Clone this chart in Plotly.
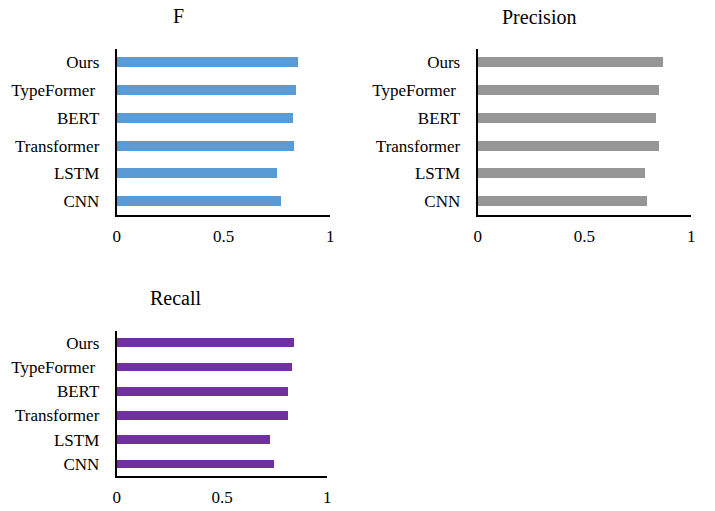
import plotly.graph_objects as go

categories = ["CNN", "LSTM", "Transformer", "BERT", "TypeFormer", "Ours"]
tick_labels = ["CNN", "LSTM", "Transformer", "BERT", "TypeFormer\u00a0", "Ours"]
f_values = [0.768, 0.751, 0.828, 0.823, 0.836, 0.848]
precision_values = [0.790, 0.781, 0.846, 0.833, 0.849, 0.868]
recall_values = [0.745, 0.726, 0.810, 0.814, 0.830, 0.838]
x_ticks = [0, 0.5, 1]
x_tick_labels = ["0", "0.5", "1"]
titles = ["F", "Precision", "Recall"]
colors = ["#5B9BD5", "#969696", "#7030A0"]

W, H = 715, 511
FONT = "Liberation Serif, Times New Roman, serif"

fig = go.Figure()
series = [f_values, precision_values, recall_values]
for i, (vals, col) in enumerate(zip(series, colors)):
    sfx = "" if i == 0 else str(i + 1)
    fig.add_trace(go.Bar(
        x=vals, y=categories, orientation="h", marker=dict(color=col, line=dict(width=0)),
        width=0.36, xaxis="x" + sfx, yaxis="y" + sfx, showlegend=False,
    ))

def px_x(a, b):
    return [a / W, b / W]

def px_y(top, bottom):
    return [1 - bottom / H, 1 - top / H]

domains = [
    (px_x(114, 330), px_y(49, 215)),
    (px_x(479, 695), px_y(49, 215)),
    (px_x(114, 327), px_y(331, 476)),
]

layout = dict(
    width=W, height=H, margin=dict(l=0, r=0, t=0, b=0),
    paper_bgcolor="white", plot_bgcolor="white",
    font=dict(family=FONT, size=17, color="black"),
    bargap=0,
)
for i, (dx, dy) in enumerate(domains):
    sfx = "" if i == 0 else str(i + 1)
    layout["xaxis" + sfx] = dict(
        domain=dx, range=[0, 1], anchor="y" + sfx, tickvals=x_ticks, ticktext=x_tick_labels,
        showgrid=False, zeroline=False, showline=True, linecolor="black", linewidth=2,
        ticks="outside", ticklen=5, tickcolor="rgba(0,0,0,0)",
        tickfont=dict(family=FONT, size=17, color="black"), fixedrange=True,
    )
    layout["yaxis" + sfx] = dict(
        domain=dy, range=[-0.5, 5.48], anchor="x" + sfx, type="category",
        categoryorder="array", categoryarray=categories,
        tickvals=categories, ticktext=tick_labels,
        showgrid=False, zeroline=False, showline=True, linecolor="black", linewidth=2,
        ticks="outside", ticklen=12, tickcolor="rgba(0,0,0,0)",
        tickfont=dict(family=FONT, size=17, color="black"), fixedrange=True,
    )

title_pos = [(176, 16), (541, 17), (174, 298)]
annotations = []
for t, (x, y) in zip(titles, title_pos):
    annotations.append(dict(
        text=t, x=x / W, y=1 - y / H, xref="paper", yref="paper",
        xanchor="center", yanchor="middle", showarrow=False,
        font=dict(family=FONT, size=20, color="black"),
    ))
layout["annotations"] = annotations

fig.update_layout(**layout)
fig.write_html("out.html")
